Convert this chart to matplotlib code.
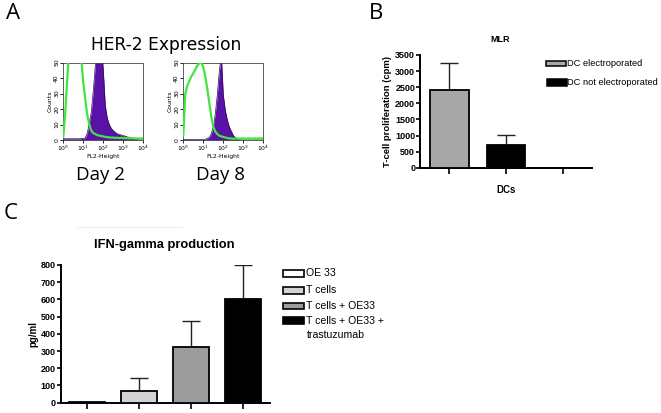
import numpy as np
import matplotlib
matplotlib.use("Agg")
import matplotlib.pyplot as plt
from matplotlib.patches import Rectangle
from matplotlib.lines import Line2D
from matplotlib.ticker import LogLocator, NullFormatter, FixedLocator

W, H = 661, 413
DPI = 100

# ---------------- data ----------------
# Panel A: flow cytometry histograms (log10 of FL2-Height vs counts)
log_fl2 = [0.0, 0.1, 0.2, 0.3, 0.4, 0.5, 0.6, 0.7, 0.8, 0.9,
           1.0, 1.1, 1.2, 1.3, 1.4, 1.5, 1.6, 1.7, 1.8, 1.9,
           2.0, 2.1, 2.2, 2.3, 2.4, 2.5, 2.6, 2.7, 2.8, 2.9,
           3.0, 3.1, 3.2, 3.3, 3.4, 3.5, 3.6, 3.7, 3.8, 3.9, 4.0]
day2_control = [2, 18, 40, 58, 60, 60, 60, 60, 60, 52,
                37, 26, 16, 10, 6, 4.5, 3.8, 3.2, 2.8, 2.6,
                2.3, 2, 1.8, 1.7, 1.5, 1.6, 1.3, 1.5, 1.2, 1.4,
                1.3, 1.1, 1.3, 1, 1.2, 1, 1.1, 1, 0.9, 1, 1]
day2_her2 = [0.8, 0.8, 0.8, 0.8, 0.8, 0.8, 0.8, 0.8, 0.8, 0.9,
             1, 1.5, 4.5, 11, 18, 32, 48, 60, 62, 62,
             45, 22, 14, 10, 7.5, 6, 5, 4, 3.6, 3.2,
             2.8, 2.5, 2, 1.7, 1.3, 1, 0.5, 0.2, 0.1, 0, 0]
day8_control = [3, 30, 35, 38, 41, 43, 45.5, 48, 49.5, 50,
                47, 41, 33, 24, 15, 8.5, 5.5, 3.8, 2.8, 2.3,
                2, 1.6, 1.3, 1, 1, 0.8, 1, 1, 0.8, 1,
                1, 0.8, 1, 1, 0.8, 1, 1, 0.8, 1, 1, 1]
day8_her2 = [0.3, 0.3, 0.3, 0.3, 0.3, 0.3, 0.3, 0.3, 0.3, 0.3,
             0.3, 0.5, 1, 1.8, 4, 8.5, 17, 29, 44, 55,
             29, 19, 13, 8.5, 5.6, 3, 1.5, 0.8, 0.2, 0,
             0, 0, 0, 0, 0, 0, 0, 0, 0, 0, 0]
hist_titles = ["Day 2", "Day 8"]

# Panel B: MLR
mlr_groups = ["DC electroporated", "DC not electroporated"]
mlr_values = [2410, 705]
mlr_errors = [830, 308]
mlr_colors = ["#a8a8a8", "#000000"]
mlr_yticks = [0, 500, 1000, 1500, 2000, 2500, 3000, 3500]

# Panel C: IFN-gamma
ifn_groups = ["OE 33", "T cells", "T cells + OE33", "T cells + OE33 +\ntrastuzumab"]
ifn_values = [3, 70, 325, 602]
ifn_errors = [0, 72, 150, 198]
ifn_colors = ["#ffffff", "#d2d2d2", "#9c9c9c", "#000000"]
ifn_yticks = [0, 100, 200, 300, 400, 500, 600, 700, 800]

# ---------------- helpers ----------------
fig = plt.figure(figsize=(W / DPI, H / DPI), dpi=DPI)
fig.patch.set_facecolor("white")

def fx(x):
    return x / W

def fy(y):
    return 1 - y / H

def axes_px(l, t, r, b):
    return fig.add_axes([l / W, 1 - b / H, (r - l) / W, (b - t) / H])

LETTER_FONT = ["Open Sans", "DejaVu Sans"]
TITLE_FONT = ["DejaVu Sans"]
ARIAL = ["Liberation Sans", "DejaVu Sans"]

# panel letters
fig.text(fx(5.5), fy(13.5), "A", fontsize=16, family=LETTER_FONT, va="center", ha="left")
fig.text(fx(369), fy(13.5), "B", fontsize=16, family=LETTER_FONT, va="center", ha="left")
fig.text(fx(4), fy(213.5), "C", fontsize=16, family=LETTER_FONT, va="center", ha="left")

# ---------------- Panel A ----------------
fig.text(fx(166.5), fy(45), "HER-2 Expression", fontsize=12.3, family=TITLE_FONT,
         ha="center", va="center")

purple = "#5812a8"
green = "#3ee63e"
xs = [10 ** v for v in log_fl2]
hist_boxes = [(63.3, 62.5, 143.3, 140), (183.3, 62.5, 263.3, 140)]
controls = [day2_control, day8_control]
her2s = [day2_her2, day8_her2]
for box, ctrl, her, title in zip(hist_boxes, controls, her2s, hist_titles):
    ax = axes_px(*box)
    ax.fill_between(xs, her, 0, color=purple, lw=0, zorder=2)
    ax.plot(xs, her, color="#2a0a50", lw=0.5, zorder=2)
    ax.plot(xs, ctrl, color=green, lw=1.6, zorder=3)
    ax.set_xscale("log")
    ax.set_xlim(1, 10 ** 4)
    ax.set_ylim(0, 50)
    ax.set_yticks([0, 10, 20, 30, 40, 50])
    ax.xaxis.set_major_locator(FixedLocator([1, 10, 100, 1000, 10000]))
    ax.set_xticklabels([r"$10^0$", r"$10^1$", r"$10^2$", r"$10^3$", r"$10^4$"])
    ax.xaxis.set_minor_locator(LogLocator(base=10, subs=range(2, 10)))
    ax.xaxis.set_minor_formatter(NullFormatter())
    ax.tick_params(axis="both", which="major", labelsize=4.4, length=2, width=0.6, pad=1)
    ax.tick_params(axis="x", which="minor", length=1.2, width=0.4)
    for lbl in ax.get_yticklabels():
        lbl.set_rotation(90)
        lbl.set_va("center")
    ax.set_ylabel("Counts", fontsize=4.4, labelpad=1)
    ax.set_xlabel("FL2-Height", fontsize=4.4, labelpad=0.5)
    for s in ax.spines.values():
        s.set_linewidth(0.6)
        s.set_color("#444444")
    cx = (box[0] + box[2]) / 2 - 3
    fig.text(fx(cx), fy(174.5), title, fontsize=13.5, family=LETTER_FONT,
             ha="center", va="center")

# ---------------- Panel B ----------------
def style_bar_axes(ax):
    ax.spines["top"].set_visible(False)
    ax.spines["right"].set_visible(False)
    ax.spines["left"].set_linewidth(1.4)
    ax.spines["bottom"].set_linewidth(1.4)
    ax.tick_params(axis="y", length=3, width=1.2, pad=0.5)
    ax.tick_params(axis="x", length=4, width=1.2, labelbottom=False)
    for lbl in ax.get_yticklabels():
        lbl.set_fontsize(6.5)
        lbl.set_fontweight("bold")
        lbl.set_family(ARIAL)

axB = axes_px(420, 55, 591.7, 167.7)
posB = [0, 1]
axB.bar(posB, mlr_values, width=0.675, color=mlr_colors, edgecolor="black",
        linewidth=1.3, zorder=3)
axB.errorbar(posB, mlr_values, yerr=[[0] * len(mlr_values), mlr_errors], fmt="none",
             ecolor="#222222", elinewidth=1.0, capsize=6.8, capthick=1.0, zorder=2)
axB.set_xlim(-0.52, 2.51)
axB.set_ylim(0, 3500)
axB.set_xticks([0, 1, 2])
axB.set_yticks(mlr_yticks)
style_bar_axes(axB)
axB.set_ylabel("T-cell proliferation (cpm)", fontsize=6.8, fontweight="bold",
               family=ARIAL, labelpad=2)
fig.text(fx(500), fy(39), "MLR", fontsize=6.5, fontweight="bold", family=ARIAL,
         ha="center", va="center")
fig.text(fx(506), fy(190), "DCs", fontsize=7, fontweight="bold", family=ARIAL,
         ha="center", va="center")

# legend B
leg_rows_B = [(546, 60.7, 566, 66, 63.5), (547.3, 79.3, 566.7, 86, 82.7)]
for (l, t, r, b, cy), name, col in zip(leg_rows_B, mlr_groups, mlr_colors):
    fig.patches.append(Rectangle((fx(l), fy(b)), (r - l) / W, (b - t) / H,
                                 transform=fig.transFigure, facecolor=col,
                                 edgecolor="black", linewidth=1.1))
    fig.text(fx(r + 0.7), fy(cy), name, fontsize=6.7, family=ARIAL,
             ha="left", va="center")

# ---------------- Panel C ----------------
axC = axes_px(60.7, 265, 270, 402.7)
posC = [0, 1, 2, 3]
axC.bar(posC, ifn_values, width=0.69, color=ifn_colors, edgecolor="black",
        linewidth=1.3, zorder=3)
axC.errorbar(posC[1:], ifn_values[1:], yerr=[[0] * 3, ifn_errors[1:]], fmt="none",
             ecolor="#222222", elinewidth=1.0, capsize=6.5, capthick=1.0, zorder=2)
axC.set_xlim(-0.51, 3.51)
axC.set_ylim(0, 800)
axC.set_xticks(posC)
axC.set_yticks(ifn_yticks)
style_bar_axes(axC)
axC.set_ylabel("pg/ml", fontsize=7, fontweight="bold", family=ARIAL, labelpad=2)
fig.text(fx(164), fy(245), "IFN-gamma production", fontsize=9.3, fontweight="bold",
         family=ARIAL, ha="center", va="center")
fig.add_artist(Line2D([fx(77), fx(182)], [fy(226.7), fy(226.7)], color="#ededed",
                      lw=0.8, transform=fig.transFigure))

# legend C
leg_rows_C = [273.3, 290.3, 306, 320.7]
for cy, name, col in zip(leg_rows_C, ifn_groups, ifn_colors):
    l, r = 283, 304
    t, b = cy - 3.3, cy + 3.3
    fig.patches.append(Rectangle((fx(l), fy(b)), (r - l) / W, (b - t) / H,
                                 transform=fig.transFigure, facecolor=col,
                                 edgecolor="black", linewidth=1.2))
    lines = name.split("\n")
    for i, line in enumerate(lines):
        fig.text(fx(306.5), fy(cy + 14.3 * i), line, fontsize=7.6, family=ARIAL,
                 ha="left", va="center")

fig.savefig("out.png", dpi=DPI, facecolor="white")
